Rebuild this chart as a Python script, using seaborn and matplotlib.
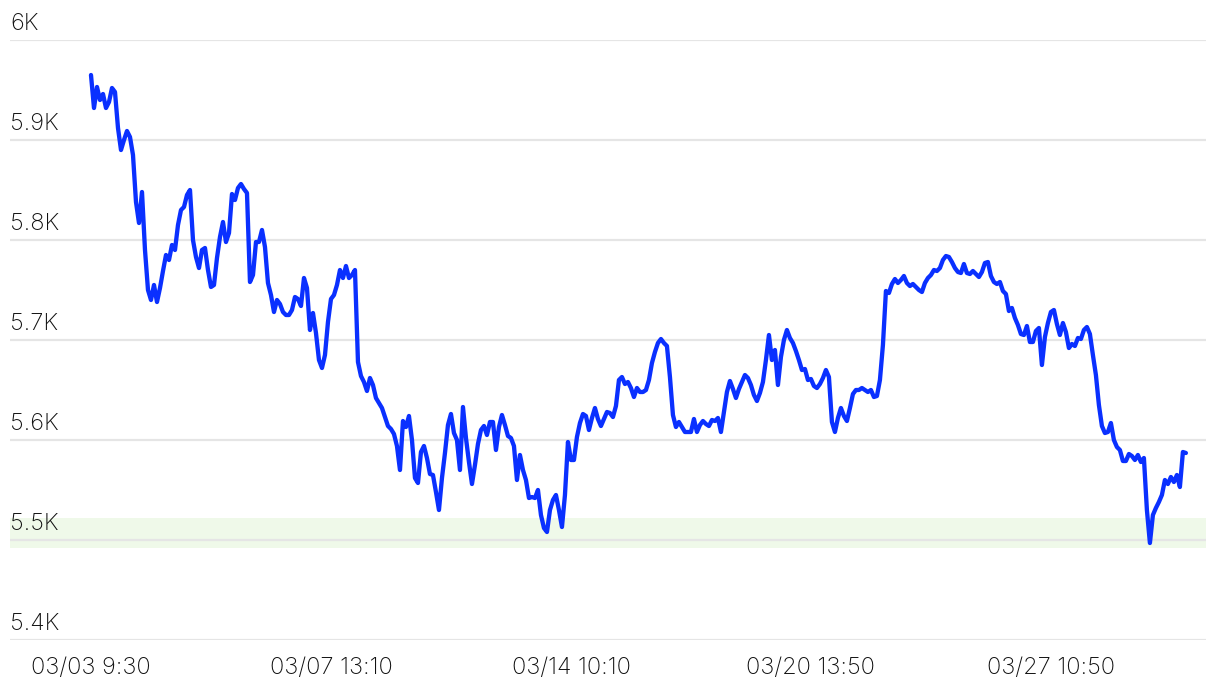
import numpy as np
import pandas as pd
import matplotlib
matplotlib.use("Agg")
import matplotlib.pyplot as plt
import matplotlib.transforms as mtransforms
import seaborn as sns

# values, one per time step
prices = [
    5965, 5932, 5953, 5940, 5946, 5932, 5938, 5952, 5948, 5912,
    5890, 5900, 5909, 5903, 5885, 5838, 5817, 5848, 5790, 5750,
    5740, 5755, 5738, 5752, 5769, 5785, 5780, 5795, 5790, 5815,
    5830, 5833, 5845, 5850, 5800, 5783, 5772, 5790, 5792, 5770,
    5753, 5755, 5782, 5803, 5818, 5798, 5807, 5846, 5840, 5852,
    5856, 5851, 5847, 5758, 5765, 5798, 5798, 5810, 5793, 5757,
    5745, 5728, 5740, 5736, 5728, 5725, 5725, 5730, 5743, 5741,
    5734, 5762, 5752, 5710, 5727, 5707, 5680, 5672, 5685, 5718,
    5741, 5745, 5755, 5770, 5762, 5774, 5762, 5765, 5770, 5678,
    5664, 5658, 5649, 5662, 5655, 5642, 5637, 5632, 5623, 5614,
    5611, 5606, 5594, 5570, 5619, 5613, 5624, 5600, 5562, 5557,
    5588, 5594, 5582, 5566, 5565, 5548, 5530, 5562, 5587, 5615,
    5626, 5607, 5600, 5570, 5633, 5602, 5578, 5556, 5575, 5596,
    5610, 5614, 5605, 5618, 5618, 5590, 5613, 5625, 5615, 5604,
    5602, 5594, 5560, 5585, 5570, 5560, 5542, 5543, 5542, 5550,
    5525, 5512, 5508, 5530, 5540, 5545, 5530, 5513, 5545, 5598,
    5580, 5580, 5603, 5617, 5626, 5624, 5610, 5622, 5632, 5621,
    5614, 5621, 5628, 5627, 5623, 5634, 5660, 5663, 5656, 5658,
    5652, 5643, 5652, 5648, 5648, 5650, 5660, 5677, 5688, 5697,
    5701, 5697, 5694, 5663, 5625, 5613, 5618, 5613, 5608, 5608,
    5608, 5621, 5608, 5615, 5619, 5616, 5614, 5620, 5619, 5622,
    5608, 5628, 5648, 5659, 5651, 5642, 5651, 5658, 5665, 5662,
    5655, 5645, 5639, 5647, 5658, 5680, 5705, 5680, 5690, 5655,
    5683, 5700, 5710, 5702, 5697, 5689, 5680, 5670, 5671, 5660,
    5661, 5654, 5652, 5656, 5662, 5670, 5663, 5618, 5608, 5622,
    5632, 5624, 5619, 5632, 5646, 5650, 5650, 5652, 5650, 5648,
    5650, 5643, 5644, 5660, 5695, 5749, 5747, 5756, 5761, 5757,
    5760, 5764, 5757, 5754, 5756, 5753, 5750, 5748, 5757, 5762,
    5765, 5770, 5769, 5772, 5780, 5784, 5783, 5778, 5772, 5768,
    5767, 5776, 5767, 5766, 5769, 5766, 5763, 5768, 5777, 5778,
    5764, 5758, 5756, 5758, 5749, 5746, 5729, 5732, 5722, 5715,
    5706, 5705, 5714, 5698, 5698, 5709, 5712, 5675, 5703, 5717,
    5728, 5730, 5716, 5705, 5717, 5708, 5692, 5696, 5694, 5702,
    5701, 5710, 5713, 5706, 5685, 5665, 5635, 5614, 5607, 5608,
    5617, 5600, 5593, 5590, 5579, 5579, 5586, 5584, 5580, 5585,
    5578, 5582, 5530, 5497, 5525, 5532, 5538, 5545, 5560, 5556,
    5563, 5558, 5565, 5553, 5588, 5587,
]

tick_pos = [0, 80, 160, 240, 320]
tick_labels = ["03/03 9:30", "03/07 13:10", "03/14 10:10", "03/20 13:50", "03/27 10:50"]

y_ticks = [5400, 5500, 5600, 5700, 5800, 5900, 6000]
y_labels = ["5.4K", "5.5K", "5.6K", "5.7K", "5.8K", "5.9K", "6K"]

band_low, band_high = 5492, 5522

df = pd.DataFrame({"step": np.arange(len(prices)), "price": prices})

sns.set_style("white")
plt.rcParams["font.family"] = ["Inter", "DejaVu Sans"]

fig = plt.figure(figsize=(12.2, 6.88), dpi=100)
ax = fig.add_axes([10 / 1220, 48 / 688, 1196 / 1220, 600 / 688])

# green support zone
ax.axhspan(band_low, band_high, color="#eff9e9", zorder=0, lw=0)

for v in y_ticks:
    ax.axhline(v, color="#e5e5e5", lw=1.6, zorder=1)

line = sns.lineplot(data=df, x="step", y="price", color="#0a30ff", lw=3.1, ax=ax, zorder=3)
for ln in ax.lines[-1:]:
    ln.set_solid_joinstyle("round")
    ln.set_solid_capstyle("round")

ax.set_ylim(5400, 6000)
ax.set_xlim(-27, len(prices) - 1 + 6.7)

ax.set_xticks(tick_pos)
ax.set_xticklabels(tick_labels, fontsize=17, color="#111111", fontweight="light")
ax.tick_params(axis="x", length=0, pad=12)
ax.set_yticks([])
ax.set_xlabel("")
ax.set_ylabel("")

# y labels sit above their gridline, at the left edge
offset = mtransforms.ScaledTranslation(0, 10 / 100, fig.dpi_scale_trans)
trans = mtransforms.blended_transform_factory(fig.transFigure, ax.transData) + offset
for v, lab in zip(y_ticks, y_labels):
    ax.text(10 / 1220, v, lab, transform=trans, ha="left", va="baseline",
            fontsize=17, color="#111111", fontweight="light", clip_on=False)

sns.despine(ax=ax, left=True, bottom=True, top=True, right=True)

fig.savefig("out.png", dpi=100)
